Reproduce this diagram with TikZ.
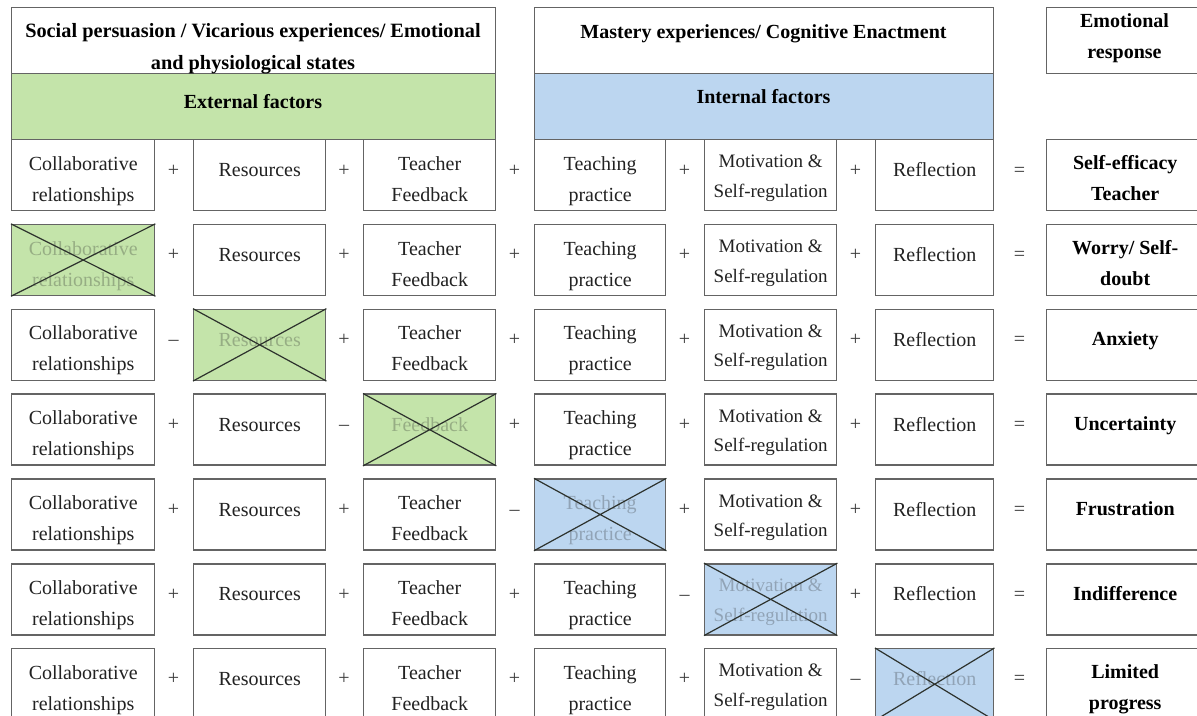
\documentclass[tikz,border=0pt]{standalone}
\usepackage{fontspec}
\setmainfont{Liberation Serif}

\definecolor{extgreen}{RGB}{196,228,170}
\definecolor{intblue}{RGB}{188,214,240}
\definecolor{boxrule}{RGB}{100,100,100}
\definecolor{ink}{RGB}{34,34,34}
\definecolor{opgray}{RGB}{60,60,60}
\definecolor{crossink}{RGB}{45,50,45}

% every line gets a strut so that line positions do not depend on the letters
\newcommand\twoline[2]{\strut#1\\\strut#2}
\newcommand\oneline[1]{\strut#1}

\tikzset{
  frame/.style={draw=boxrule, line width=1.4pt, inner sep=0pt, anchor=north west},
  cellbox/.style={frame, minimum height=71pt},
  celltext/.style={anchor=north, inner sep=0pt, align=center, text=ink},
  boldtext/.style={anchor=north, inner sep=0pt, align=center, text=black,
                   font=\fontsize{20}{31}\selectfont\bfseries},
  optext/.style={anchor=base, inner sep=0pt, text=opgray,
                 font=\fontsize{20}{24}\selectfont},
  xline/.style={draw=crossink, line width=1.2pt},
  faded/.style={text opacity=0.28},
}

% one row of the table
% #1 row number, #2 crossed-out column (0 = none), #3 emotional response, #4 its offset
\newcommand\tablerow[4]{%
  \pgfmathsetmacro\rowtop{139+84.83*(#1-1)}%
  \foreach \col/\L/\W/\dy/\fs/\bs/\txt in {%
      1/11/143/9.3/20/31/{\twoline{Collaborative}{relationships}},
      2/193/132/15.8/20/31/{\oneline{Resources}},
      3/363/132/9.3/20/31/{\twoline{Teacher}{Feedback}},
      4/534/131/9.3/20/31/{\twoline{Teaching}{practice}},
      5/704/132/7.85/19/29.5/{\twoline{Motivation \&}{Self-regulation}},
      6/875/118/15.8/20/31/{\oneline{Reflection}}}{%
    \ifnum\col=#2\relax
      \ifnum\col<4 \def\cellfill{extgreen}\else\def\cellfill{intblue}\fi
      \ifnum\col=3 \def\txt{\oneline{Feedback}}\def\dy{15.8}\fi
      \node[cellbox, fill=\cellfill, minimum width=\W pt] (b#1-\col) at (\L,\rowtop) {};
      \node[celltext, faded, font=\fontsize{\fs}{\bs}\selectfont]
        (t#1-\col) at ([yshift=-\dy pt]b#1-\col.north) {\txt};
      \draw[xline] (b#1-\col.north west) -- (b#1-\col.south east)
                   (b#1-\col.south west) -- (b#1-\col.north east);
    \else
      \node[cellbox, minimum width=\W pt] (b#1-\col) at (\L,\rowtop) {};
      \node[celltext, font=\fontsize{\fs}{\bs}\selectfont]
        (t#1-\col) at ([yshift=-\dy pt]b#1-\col.north) {\txt};
    \fi
  }%
  \foreach \j/\x in {1/173.5,2/344,3/514.5,4/684.5,5/855.5}{%
    \pgfmathtruncatemacro\nxt{\j+1}%
    \ifnum\nxt=#2\relax\def\optxt{\textendash}\else\def\optxt{+}\fi
    \node[optext] (o#1-\j) at (\x,\rowtop+37) {\optxt};
  }%
  \node[optext] (eq#1) at (1019.5,\rowtop+37) {=};
  \node[cellbox, minimum width=157pt] (e#1) at (1046,\rowtop) {};
  \node[boldtext] (et#1) at ([yshift=-#4pt]e#1.north) {#3};
}

\begin{document}
\begin{tikzpicture}[x=1pt, y=-1pt]
  \clip (0,0) rectangle (1197,715);
  \fill[white] (0,0) rectangle (1197,715);

  % headings of the external factors
  \node[frame, minimum width=484pt, minimum height=66pt] (soc) at (11,7) {};
  \node[frame, fill=extgreen, minimum width=484pt, minimum height=66pt] (ext) at (11,73) {};
  \node[boldtext, font=\fontsize{20.3}{31.3}\selectfont\bfseries] (soct) at (253,15.8)
    {\twoline{Social persuasion / Vicarious experiences/ Emotional}{and physiological states}};
  \node[boldtext, anchor=base] (extt) at (253,108) {External factors};

  % headings of the internal factors
  \node[frame, minimum width=459pt, minimum height=66pt] (mas) at (534,7) {};
  \node[frame, fill=intblue, minimum width=459pt, minimum height=66pt] (int) at (534,73) {};
  \node[boldtext, anchor=base] (mast) at (763.5,38) {Mastery experiences/ Cognitive Enactment};
  \node[boldtext, anchor=base] (intt) at (763.5,103) {Internal factors};

  % heading of the result column
  \node[frame, minimum width=157pt, minimum height=66pt] (emo) at (1046,7) {};
  \node[boldtext] (emot) at (1124.5,5.3) {\twoline{Emotional}{response}};

  % the seven combinations
  \tablerow{1}{0}{\twoline{Self-efficacy}{Teacher}}{8.3}
  \tablerow{2}{1}{\twoline{Worry/ Self-}{doubt}}{8.3}
  \tablerow{3}{2}{\oneline{Anxiety}}{15.3}
  \tablerow{4}{3}{\oneline{Uncertainty}}{15.3}
  \tablerow{5}{4}{\oneline{Frustration}}{15.3}
  \tablerow{6}{5}{\oneline{Indifference}}{15.3}
  \tablerow{7}{6}{\twoline{Limited}{progress}}{8.3}
\end{tikzpicture}
\end{document}
